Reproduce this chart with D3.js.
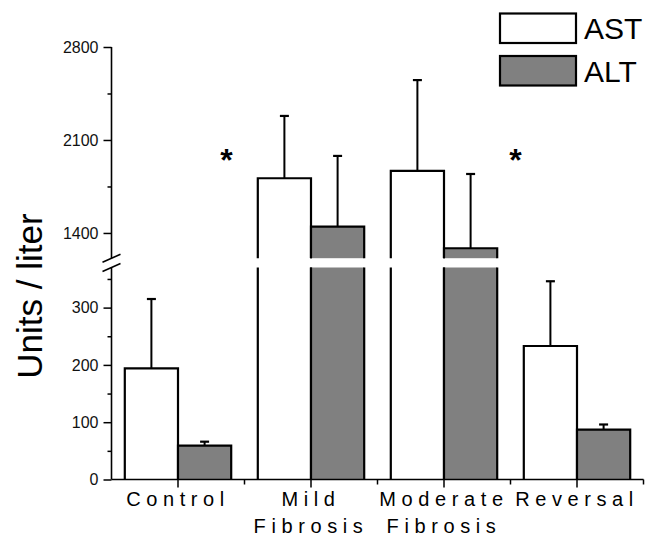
<!DOCTYPE html>
<html>
<head>
<meta charset="utf-8">
<script src="https://cdn.jsdelivr.net/npm/d3@7"></script>
<style>
  body { margin: 0; background: #fff; }
  svg { display: block; font-family: "Liberation Sans", Arial, sans-serif; }
</style>
</head>
<body>
<script>
// data
const categories = ["Control", "Mild Fibrosis", "Moderate Fibrosis", "Reversal"];
const categoryLines = [["Control"], ["Mild", "Fibrosis"], ["Moderate", "Fibrosis"], ["Reversal"]];
const series = ["AST", "ALT"];
const astMean = [194, 1812, 1868, 233];
const astErr = [121, 469, 683, 113];
const altMean = [59, 1447, 1285, 87];
const altErr = [7, 533, 559, 9];
const lowerTicks = [0, 100, 200, 300];
const lowerMinor = [50, 150, 250, 350];
const upperTicks = [1400, 2100, 2800];
const upperMinor = [1750, 2450];
const starCategories = ["Mild Fibrosis", "Reversal"];
const starValue = 2000;

const width = 653, height = 537;
const colors = { AST: "#ffffff", ALT: "#808080" };

const svg = d3.select("body").append("svg")
  .attr("width", width).attr("height", height);

// broken y axis: two linear segments
const lowerMax = 370, upperMin = 1210;
const yLow = d3.scaleLinear().domain([0, lowerMax]).range([479.5, 267.5]);
const yUp = d3.scaleLinear().domain([upperMin, 2800]).range([258.2, 47]);

const x = d3.scaleBand().domain(categories).range([111.5, 643.5]);
const x1 = d3.scaleBand().domain(series).range([0, x.bandwidth()])
  .paddingOuter(0.25).paddingInner(0);

const rows = [];
categories.forEach((c, i) => {
  rows.push({ cat: c, s: "AST", v: astMean[i], e: astErr[i] });
  rows.push({ cat: c, s: "ALT", v: altMean[i], e: altErr[i] });
});

// split a bar into the parts that fall into each axis segment
function segments(v) {
  const out = [];
  if (v <= lowerMax) {
    out.push({ yb: yLow(0), yt: yLow(v), top: true });
  } else {
    out.push({ yb: yLow(0), yt: yLow(lowerMax), top: false });
    out.push({ yb: yUp(upperMin), yt: yUp(v), top: true });
  }
  return out;
}
const yOf = v => v <= lowerMax ? yLow(v) : yUp(v);

const bars = svg.append("g");
rows.forEach(d => {
  const x0 = x(d.cat) + x1(d.s), x2 = x0 + x1.bandwidth();
  segments(d.v).forEach(sg => {
    bars.append("rect")
      .attr("x", x0).attr("y", sg.yt)
      .attr("width", x2 - x0).attr("height", sg.yb - sg.yt)
      .attr("fill", colors[d.s]);
    const p = d3.path();
    p.moveTo(x0, sg.yb); p.lineTo(x0, sg.yt);
    if (sg.top) p.lineTo(x2, sg.yt); else p.moveTo(x2, sg.yt);
    p.lineTo(x2, sg.yb);
    bars.append("path").attr("d", p.toString())
      .attr("fill", "none").attr("stroke", "#000").attr("stroke-width", 2.2);
  });
  // error bar (upper half only)
  const cx = x0 + x1.bandwidth() / 2;
  const yt = yOf(d.v + d.e);
  bars.append("line").attr("x1", cx).attr("x2", cx)
    .attr("y1", yOf(d.v)).attr("y2", yt)
    .attr("stroke", "#000").attr("stroke-width", 2);
  bars.append("line").attr("x1", cx - 4.5).attr("x2", cx + 4.5)
    .attr("y1", yt).attr("y2", yt)
    .attr("stroke", "#000").attr("stroke-width", 2.2);
});

// y axes
function styleAxis(g) {
  g.select(".domain").remove();
  g.selectAll(".tick line").attr("stroke", "#000").attr("stroke-width", 1.5);
  g.selectAll(".tick text").attr("font-size", 16).attr("fill", "#111")
    .attr("font-family", "Liberation Sans, Arial, sans-serif");
}
const axisX = 111.5;
[[yLow, lowerTicks, lowerMinor], [yUp, upperTicks, upperMinor]].forEach(([sc, maj, mnr]) => {
  svg.append("g").attr("transform", `translate(${axisX},0)`)
    .call(d3.axisLeft(sc).tickValues(maj).tickSize(8).tickPadding(5).tickFormat(d3.format("d")))
    .call(styleAxis);
  svg.append("g").attr("transform", `translate(${axisX},0)`)
    .call(d3.axisLeft(sc).tickValues(mnr).tickSize(4).tickFormat(""))
    .call(styleAxis);
  svg.append("line").attr("x1", axisX).attr("x2", axisX)
    .attr("y1", sc.range()[0]).attr("y2", sc.range()[1])
    .attr("stroke", "#000").attr("stroke-width", 1.6);
});
// break marks
[yUp(upperMin), yLow(lowerMax)].forEach(yy => {
  svg.append("line")
    .attr("x1", axisX - 9).attr("y1", yy + 4)
    .attr("x2", axisX + 9).attr("y2", yy - 4)
    .attr("stroke", "#000").attr("stroke-width", 1.5);
});

// x axis
const yBase = yLow(0);
svg.append("line").attr("x1", axisX).attr("x2", x.range()[1])
  .attr("y1", yBase).attr("y2", yBase)
  .attr("stroke", "#000").attr("stroke-width", 1.6);
categories.forEach(c => {
  const cx = x(c) + x.bandwidth() / 2, ex = x(c) + x.bandwidth();
  svg.append("line").attr("x1", cx).attr("x2", cx)
    .attr("y1", yBase).attr("y2", yBase + 8)
    .attr("stroke", "#000").attr("stroke-width", 1.5);
  svg.append("line").attr("x1", ex).attr("x2", ex)
    .attr("y1", yBase).attr("y2", yBase + 5)
    .attr("stroke", "#000").attr("stroke-width", 1.5);
});
const spacing = 5.6;
categories.forEach((c, i) => {
  const t = svg.append("text")
    .attr("text-anchor", "middle")
    .attr("font-size", 20)
    .attr("letter-spacing", spacing)
    .attr("fill", "#000");
  categoryLines[i].forEach((ln, j) => {
    t.append("tspan")
      .attr("x", x(c) + x.bandwidth() / 2)
      .attr("y", 506 + j * 27)
      .text(ln);
  });
});

// y label
svg.append("text")
  .attr("transform", "translate(42,296) rotate(-90)")
  .attr("text-anchor", "middle")
  .attr("font-size", 35)
  .attr("fill", "#000")
  .text("Units / liter");

// significance stars
const starDx = [-18, 5];
starCategories.forEach((c, i) => {
  svg.append("text")
    .attr("x", x(c) + starDx[i])
    .attr("y", yUp(starValue) + 18)
    .attr("text-anchor", "middle")
    .attr("font-size", 32)
    .attr("font-weight", "bold")
    .text("*");
});

// legend
const legend = svg.append("g");
series.forEach((s, i) => {
  legend.append("rect")
    .attr("x", 500).attr("y", 13.5 + i * 42.5)
    .attr("width", 76).attr("height", 29.5)
    .attr("fill", colors[s]).attr("stroke", "#000").attr("stroke-width", 2.2);
  legend.append("text")
    .attr("x", 584).attr("y", 38.5 + i * 43.5)
    .attr("font-size", 30)
    .attr("fill", "#000")
    .text(s);
});
</script>
</body>
</html>
